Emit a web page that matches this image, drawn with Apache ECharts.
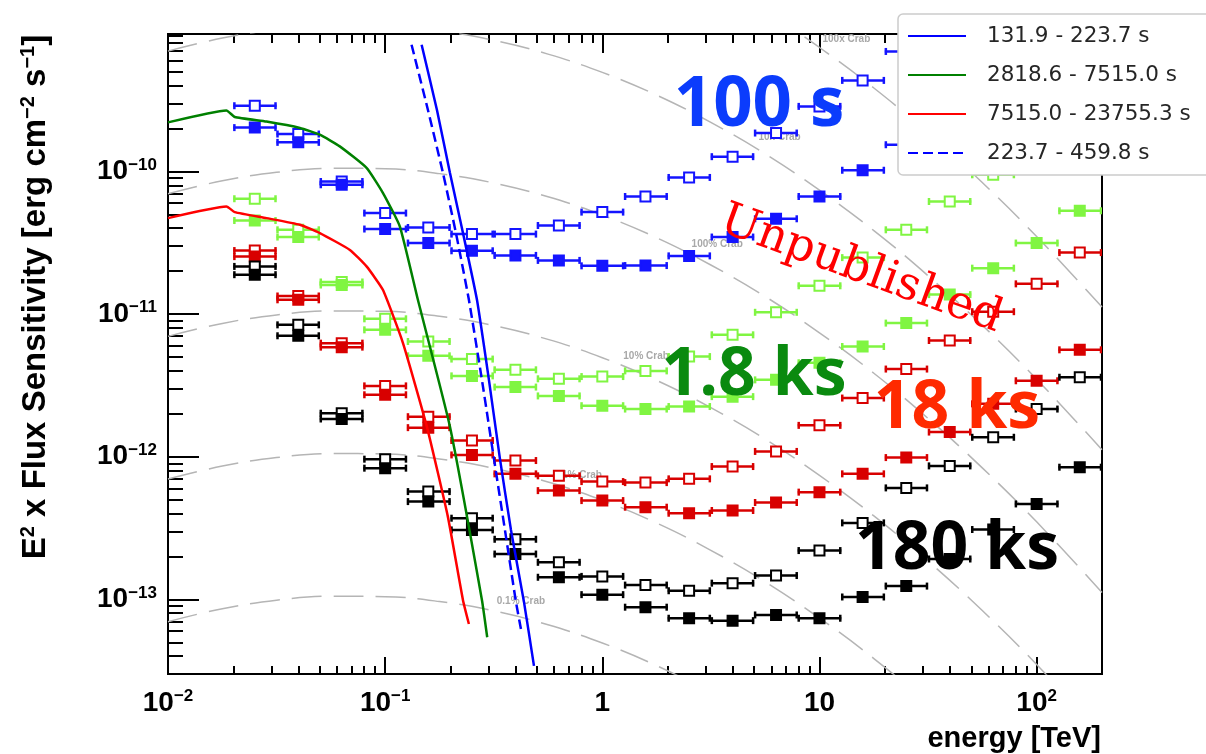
<!DOCTYPE html>
<html>
<head>
<meta charset="utf-8">
<script src="https://cdn.jsdelivr.net/npm/echarts@6/dist/echarts.min.js"></script>
<style>
  html, body { margin: 0; padding: 0; background: #fff; }
  #chart { width: 1206px; height: 754px; }
</style>
</head>
<body>
<div id="chart"></div>
<script>
// Energy bins (TeV): centres and edges, five bins per decade
const energyCenter = [0.0251, 0.0398, 0.0631, 0.1, 0.158, 0.251, 0.398, 0.631, 1, 1.58, 2.51, 3.98, 6.31, 10, 15.8, 25.1, 39.8, 63.1, 100, 158];
const energyLow    = [0.02, 0.0316, 0.05, 0.0794, 0.126, 0.2, 0.316, 0.5, 0.794, 1.26, 2, 3.16, 5, 7.94, 12.6, 20, 31.6, 50, 79.4, 126];
const energyHigh   = [0.0316, 0.05, 0.0794, 0.126, 0.2, 0.316, 0.5, 0.794, 1.26, 2, 3.16, 5, 7.94, 12.6, 20, 31.6, 50, 79.4, 126, 200];

// Differential sensitivity, E^2 x flux [erg cm^-2 s^-1]; open and filled markers per exposure
const sens100sOpen     = [2.89e-10, 1.83e-10, 8.51e-11, 5.11e-11, 4.05e-11, 3.64e-11, 3.64e-11, 4.18e-11, 5.19e-11, 6.68e-11, 9.08e-11, 1.27e-10, 1.86e-10, 2.86e-10, 4.35e-10, 6.94e-10];
const sens100sFilled   = [2.03e-10, 1.60e-10, 8.07e-11, 3.95e-11, 3.15e-11, 2.78e-11, 2.58e-11, 2.38e-11, 2.18e-11, 2.19e-11, 2.56e-11, 3.47e-11, 4.66e-11, 6.68e-11, 1.02e-10, 1.54e-10];
const sens1800sOpen    = [6.44e-11, 3.90e-11, 1.68e-11, 9.27e-12, 6.43e-12, 4.84e-12, 4.07e-12, 3.52e-12, 3.65e-12, 4.00e-12, 5.04e-12, 7.16e-12, 1.03e-11, 1.58e-11, 2.49e-11, 3.90e-11, 6.16e-11, 9.48e-11];
const sens1800sFilled  = [4.53e-11, 3.47e-11, 1.60e-11, 7.76e-12, 5.10e-12, 3.69e-12, 3.08e-12, 2.67e-12, 2.28e-12, 2.16e-12, 2.25e-12, 2.64e-12, 3.46e-12, 4.56e-12, 5.93e-12, 8.65e-12, 1.37e-11, 2.10e-11, 3.15e-11, 5.30e-11];
const sens18ksOpen     = [2.79e-11, 1.34e-11, 6.26e-12, 3.14e-12, 1.91e-12, 1.30e-12, 9.41e-13, 7.35e-13, 6.70e-13, 6.59e-13, 7.00e-13, 8.54e-13, 1.09e-12, 1.66e-12, 2.58e-12, 4.12e-12, 6.53e-12, 1.04e-11, 1.63e-11, 2.70e-11];
const sens18ksFilled   = [2.53e-11, 1.26e-11, 5.87e-12, 2.72e-12, 1.60e-12, 1.03e-12, 7.59e-13, 5.79e-13, 4.93e-13, 4.43e-13, 4.02e-13, 4.20e-13, 4.78e-13, 5.65e-13, 7.59e-13, 9.87e-13, 1.49e-12, 2.35e-12, 3.41e-12, 5.62e-12];
const sens180ksOpen    = [2.16e-11, 8.41e-12, 2.02e-12, 9.62e-13, 5.70e-13, 3.71e-13, 2.64e-13, 1.82e-13, 1.45e-13, 1.26e-13, 1.15e-13, 1.30e-13, 1.47e-13, 2.20e-13, 3.44e-13, 6.05e-13, 8.63e-13, 1.37e-12, 2.16e-12, 3.61e-12];
const sens180ksFilled  = [1.89e-11, 7.05e-12, 1.84e-12, 8.32e-13, 4.85e-13, 3.07e-13, 2.08e-13, 1.43e-13, 1.08e-13, 8.82e-14, 7.38e-14, 7.10e-14, 7.78e-14, 7.38e-14, 1.04e-13, 1.24e-13, 1.92e-13, 3.09e-13, 4.67e-13, 8.45e-13];

// Time-interval sensitivity curves (energy [TeV], E^2 x flux)
const curveA_E = [0.1472, 0.1731, 0.1987, 0.2281, 0.2647, 0.3005, 0.3378, 0.3796, 0.4357, 0.4845];
const curveA_F = [7.74e-10, 2.71e-10, 9.79e-11, 3.72e-11, 1.26e-11, 3.46e-12, 9.67e-13, 3.07e-13, 9.61e-14, 3.42e-14];
const curveB_E = [0.01, 0.01858, 0.0203, 0.0284, 0.0405, 0.0500, 0.0618, 0.0821, 0.0976, 0.1169, 0.1415, 0.1987, 0.2790, 0.2951];
const curveB_F = [2.21e-10, 2.68e-10, 2.41e-10, 2.24e-10, 2.02e-10, 1.81e-10, 1.50e-10, 1.06e-10, 7.09e-11, 4.11e-11, 1.26e-11, 1.63e-12, 9.92e-14, 5.43e-14];
const curveC_E = [0.01, 0.01858, 0.0203, 0.0284, 0.0405, 0.0500, 0.0688, 0.0821, 0.0976, 0.1207, 0.1557, 0.1945, 0.2281, 0.2430];
const curveC_F = [4.71e-11, 5.68e-11, 5.19e-11, 4.71e-11, 4.23e-11, 3.70e-11, 2.82e-11, 2.16e-11, 1.48e-11, 6.29e-12, 1.62e-12, 3.79e-13, 9.92e-14, 6.73e-14];
const curveD_E = [0.1323, 0.1573, 0.1845, 0.2117, 0.2430, 0.2790, 0.3170, 0.3561, 0.4002, 0.4219];
const curveD_F = [7.74e-10, 2.71e-10, 9.79e-11, 3.72e-11, 1.26e-11, 3.46e-12, 9.67e-13, 3.07e-13, 9.61e-14, 6.21e-14];
const curveNames = ['131.9 - 223.7 s', '2818.6 - 7515.0 s', '7515.0 - 23755.3 s', '223.7 - 459.8 s'];

// Crab Nebula reference spectrum (100% Crab) and the drawn multiples
const crabE = [0.01, 0.0178, 0.0316, 0.0562, 0.1, 0.178, 0.316, 0.562, 1, 1.78, 3.16, 5.62, 10, 17.8, 31.6, 56.2, 100, 200];
const crabFlux = [6.98e-11, 8.61e-11, 9.87e-11, 1.053e-10, 1.046e-10, 9.66e-11, 8.31e-11, 6.65e-11, 4.95e-11, 3.43e-11, 2.21e-11, 1.33e-11, 7.40e-12, 3.85e-12, 1.86e-12, 8.36e-13, 3.50e-13, 1.12e-13];
const crabLevels = [100, 10, 1, 0.1, 0.01, 0.001];
const crabNames = ['100x Crab', '10x Crab', '100% Crab', '10% Crab', '1% Crab', '0.1% Crab'];
const crabLabelE = [13.3, 6.55, 3.38, 1.59, 0.806, 0.422];
const crabLabelF = [8.52e-10, 1.75e-10, 3.11e-11, 5.10e-12, 7.47e-13, 9.76e-14];

// Axis ticks and labels
const xTickValues = [0.01, 0.1, 1, 10, 100];
const xTickLabels = ['{b|10}{s|\u22122}', '{b|10}{s|\u22121}', '{b|1}', '{b|10}', '{b|10}{s|2}'];
const yTickValues = [1e-13, 1e-12, 1e-11, 1e-10];
const yTickLabels = ['{b|10}{s|\u221213}', '{b|10}{s|\u221212}', '{b|10}{s|\u221211}', '{b|10}{s|\u221210}'];

const X_MIN = 0.01, X_MAX = 200, Y_MIN = 3e-14, Y_MAX = 9.2e-10;

function minorTicks(lo, hi) {
  const out = [];
  for (let d = Math.floor(Math.log10(lo)); d <= Math.ceil(Math.log10(hi)); d++) {
    for (let m = 2; m <= 9; m++) {
      const v = m * Math.pow(10, d);
      if (v > lo * 1.0001 && v < hi * 0.9999) out.push(v);
    }
  }
  return out;
}
const xMinor = minorTicks(X_MIN, X_MAX);
const yMinor = minorTicks(Y_MIN, Y_MAX);

const labelFont = 'Liberation Sans, Arial, sans-serif';
const tickRich = {
  b: { fontSize: 28, fontWeight: 'bold', fontFamily: labelFont, color: '#000', lineHeight: 30 },
  s: { fontSize: 17, fontWeight: 'bold', fontFamily: labelFont, color: '#000', lineHeight: 17, verticalAlign: 'top' }
};
function labelFor(values, labels) {
  return function (v) {
    const k = values.findIndex(t => Math.abs(Math.log10(t) - Math.log10(v)) < 1e-6);
    return k >= 0 ? labels[k] : '';
  };
}

function logAxis(kind, position, tickValues, len, withLabels) {
  const isX = kind === 'x';
  const ax = {
    type: 'log', logBase: 10, position: position,
    min: isX ? X_MIN : Y_MIN, max: isX ? X_MAX : Y_MAX,
    axisLine: { show: false },
    splitLine: { show: false },
    minorTick: { show: false },
    axisTick: { show: true, inside: true, length: len, customValues: tickValues, lineStyle: { color: '#000', width: 2 } },
    axisLabel: { show: false }
  };
  if (withLabels) {
    ax.axisLabel = {
      show: true, customValues: tickValues, showMinLabel: true, showMaxLabel: true,
      margin: isX ? 14 : 11,
      formatter: isX ? labelFor(xTickValues, xTickLabels) : labelFor(yTickValues, yTickLabels),
      rich: tickRich
    };
  }
  return ax;
}

function pointSeries(values, color, open) {
  const data = values.map((v, i) => [energyCenter[i], v, energyLow[i], energyHigh[i]]);
  return {
    type: 'custom', data: data, z: 3, clip: true, silent: true,
    renderItem: function (params, api) {
      const f = api.value(1);
      const c = api.coord([api.value(0), f]);
      const a = api.coord([api.value(2), f]);
      const b = api.coord([api.value(3), f]);
      const h = 5, cap = 3.5;
      const st = { stroke: color, lineWidth: 2.5 };
      return {
        type: 'group',
        children: [
          { type: 'line', shape: { x1: a[0], y1: a[1], x2: b[0], y2: b[1] }, style: st },
          { type: 'line', shape: { x1: a[0] + 1, y1: a[1] - cap, x2: a[0] + 1, y2: a[1] + cap }, style: st },
          { type: 'line', shape: { x1: b[0] - 1, y1: b[1] - cap, x2: b[0] - 1, y2: b[1] + cap }, style: st },
          { type: 'rect', shape: { x: c[0] - h, y: c[1] - h, width: 2 * h, height: 2 * h },
            style: { fill: open ? '#fff' : color, stroke: color, lineWidth: 2 } }
        ]
      };
    }
  };
}

function curveSeries(name, E, F, color, dashed) {
  return {
    type: 'line', name: name, data: E.map((e, i) => [e, F[i]]),
    symbol: 'none', showSymbol: false, smooth: 0.15, clip: true, z: 4, silent: true,
    lineStyle: { color: color, width: 2.5, type: dashed ? [10, 5] : 'solid' },
    itemStyle: { color: color }
  };
}

const crabSeries = crabLevels.map(level => ({
  type: 'line', data: crabE.map((e, i) => [e, crabFlux[i] * level]),
  symbol: 'none', showSymbol: false, smooth: 0.4, clip: true, z: 1, silent: true,
  lineStyle: { color: '#b5b5b5', width: 1.5, type: [30, 12] }
}));

const crabLabelSeries = {
  type: 'custom', z: 2, silent: true, clip: true,
  data: crabLabelE.map((e, i) => [e, crabLabelF[i], i]),
  renderItem: function (params, api) {
    const p = api.coord([api.value(0), api.value(1)]);
    return {
      type: 'text', x: p[0], y: p[1],
      style: { text: crabNames[api.value(2)], fill: '#a8a8a8', fontSize: 10, fontWeight: 'bold',
               fontFamily: labelFont, align: 'center', verticalAlign: 'middle' }
    };
  }
};

const BLUE = '#1414ff', GREEN = '#80f542', RED = '#d80000', BLACK = '#000000';

const option = {
  animation: false,
  backgroundColor: '#fff',
  grid: { left: 168, right: 104, top: 34, bottom: 80, show: true, borderColor: '#000', borderWidth: 2, backgroundColor: 'transparent' },
  xAxis: [
    logAxis('x', 'bottom', xTickValues, 17, true),
    logAxis('x', 'bottom', xMinor, 8, false),
    logAxis('x', 'top', xTickValues, 19, false),
    logAxis('x', 'top', xMinor, 9, false)
  ],
  yAxis: [
    logAxis('y', 'left', yTickValues, 31, true),
    logAxis('y', 'left', yMinor, 15, false)
  ],
  legend: {
    data: curveNames, orient: 'vertical', left: 898, top: 14,
    padding: [10, 40, 10, 9], itemGap: 15, itemWidth: 58, itemHeight: 14,
    backgroundColor: '#fff', borderColor: '#cccccc', borderWidth: 1.5, borderRadius: 5,
    selectedMode: false, z: 20,
    itemStyle: { opacity: 0 },
    textStyle: { fontFamily: 'DejaVu Sans', fontSize: 21.5, color: '#262626', lineHeight: 24, padding: [0, 0, 0, 16] }
  },
  series: [
    ...crabSeries,
    crabLabelSeries,
    pointSeries(sens100sOpen, BLUE, true),
    pointSeries(sens100sFilled, BLUE, false),
    pointSeries(sens1800sOpen, GREEN, true),
    pointSeries(sens1800sFilled, GREEN, false),
    pointSeries(sens18ksOpen, RED, true),
    pointSeries(sens18ksFilled, RED, false),
    pointSeries(sens180ksOpen, BLACK, true),
    pointSeries(sens180ksFilled, BLACK, false),
    curveSeries(curveNames[0], curveA_E, curveA_F, '#0000ff', false),
    curveSeries(curveNames[1], curveB_E, curveB_F, '#008000', false),
    curveSeries(curveNames[2], curveC_E, curveC_F, '#ff0000', false),
    curveSeries(curveNames[3], curveD_E, curveD_F, '#0000ff', true)
  ],
  graphic: [
    { type: 'text', x: 36, y: 297, rotation: Math.PI / 2, z: 10,
      style: {
        text: '{t|E}{u|2}{t| x Flux Sensitivity [erg cm}{u|\u22122}{t| s}{u|\u22121}{t|]}',
        align: 'center', verticalAlign: 'middle',
        rich: {
          t: { fontSize: 33, fontWeight: 'bold', fontFamily: labelFont, fill: '#000', lineHeight: 36 },
          u: { fontSize: 20, fontWeight: 'bold', fontFamily: labelFont, fill: '#000', lineHeight: 20, verticalAlign: 'top' }
        }
      } },
    { type: 'text', x: 1101, y: 739, z: 10,
      style: { text: 'energy [TeV]', fontSize: 29, fontWeight: 'bold', fontFamily: labelFont, fill: '#000', align: 'right', verticalAlign: 'middle' } },
    { type: 'text', x: 759, y: 106, z: 10,
      style: { text: '100 s', fontSize: 69, fontWeight: 'bold', fontFamily: 'Open Sans', fill: '#0b3cfc', align: 'center', verticalAlign: 'middle' } },
    { type: 'text', x: 754, y: 376, z: 10,
      style: { text: '1.8 ks', fontSize: 66, fontWeight: 'bold', fontFamily: 'Open Sans', fill: '#0a8a0f', align: 'center', verticalAlign: 'middle' } },
    { type: 'text', x: 957, y: 409, z: 10,
      style: { text: '18 ks', fontSize: 66, fontWeight: 'bold', fontFamily: 'Open Sans', fill: '#ff2a00', align: 'center', verticalAlign: 'middle' } },
    { type: 'text', x: 957, y: 550, z: 10,
      style: { text: '180 ks', fontSize: 66, fontWeight: 'bold', fontFamily: 'Open Sans', fill: '#000', align: 'center', verticalAlign: 'middle' } },
    { type: 'text', x: 861, y: 270, rotation: -20 * Math.PI / 180, z: 10,
      style: { text: 'Unpublished', fontSize: 46, fontFamily: 'DejaVu Serif', fill: '#ff0000', align: 'center', verticalAlign: 'middle' } }
  ]
};

const chart = echarts.init(document.getElementById('chart'), null, { renderer: 'canvas' });
chart.setOption(option);
</script>
</body>
</html>
